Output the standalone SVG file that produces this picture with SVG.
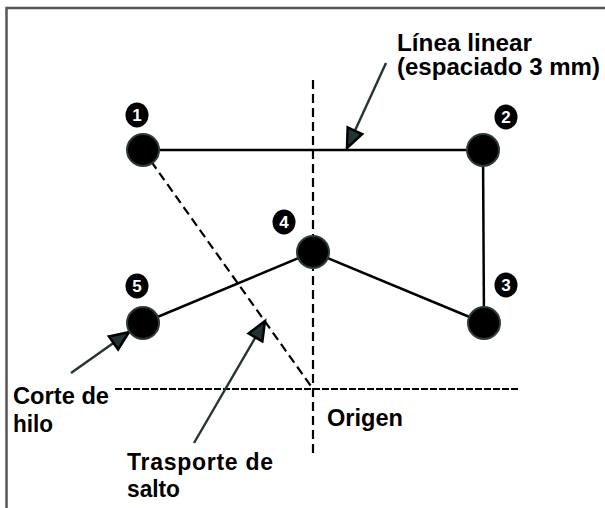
<svg xmlns="http://www.w3.org/2000/svg" width="605" height="508" viewBox="0 0 605 508">
<defs>
<marker id="ah" markerUnits="userSpaceOnUse" markerWidth="24" markerHeight="20" refX="21" refY="10" orient="auto" viewBox="0 0 24 20">
<path d="M2,2 L21,10 L2,18 z" fill="#223333" stroke="#000" stroke-width="2.5" stroke-linejoin="miter"/>
</marker>
</defs>
<style>
.frame{stroke:#555;stroke-width:2.5;fill:none}
.solid{stroke:#000;stroke-width:2.5;fill:none}
.dash{stroke:#000;stroke-width:2.2;fill:none;stroke-dasharray:9 5}
.dashf{stroke:#000;stroke-width:2.2;fill:none;stroke-dasharray:7 2}
.lead{stroke:#243434;stroke-width:2.4;fill:none;marker-end:url(#ah)}
.node{fill:#000;stroke:#2b3b3b;stroke-width:2}
.lbl{fill:#000}
.num{fill:#fff;font-family:"Liberation Sans",Arial,sans-serif;font-weight:bold;font-size:17px;text-anchor:middle}
.t{fill:#000;font-family:"Liberation Sans",Arial,sans-serif;font-weight:bold;font-size:23px}
</style>
<g id="frame">
<path class="frame" d="M6.5,508 L6.5,8 L605,8"/>
</g>
<g id="connectors">
<line class="dash" x1="313" y1="80" x2="313" y2="457"/>
<line class="dashf" x1="115" y1="389" x2="518" y2="389"/>
<line class="dash" x1="143" y1="150" x2="313" y2="389"/>
<line class="solid" x1="143" y1="150" x2="483" y2="150"/>
<line class="solid" x1="483" y1="150" x2="484" y2="323"/>
<line class="solid" x1="484" y1="323" x2="313" y2="252"/>
<line class="solid" x1="313" y1="252" x2="143" y2="323"/>
<line class="lead" x1="386" y1="63" x2="347" y2="148"/>
<line class="lead" x1="71" y1="373" x2="129" y2="332"/>
<line class="lead" x1="194" y1="443" x2="265" y2="321"/>
</g>
<g id="n1">
<circle class="node" cx="143" cy="150" r="16"/>
<ellipse class="lbl" cx="137" cy="115" rx="11.5" ry="12.5"/>
<text class="num" x="137" y="121">1</text>
</g>
<g id="n2">
<circle class="node" cx="483" cy="150" r="16"/>
<ellipse class="lbl" cx="506" cy="117" rx="11.5" ry="12.5"/>
<text class="num" x="506" y="123">2</text>
</g>
<g id="n3">
<circle class="node" cx="484" cy="323" r="16"/>
<ellipse class="lbl" cx="506" cy="285" rx="11.5" ry="12.5"/>
<text class="num" x="506" y="291">3</text>
</g>
<g id="n4">
<circle class="node" cx="313" cy="252" r="16"/>
<ellipse class="lbl" cx="284" cy="222" rx="11.5" ry="12.5"/>
<text class="num" x="284" y="228">4</text>
</g>
<g id="n5">
<circle class="node" cx="143" cy="323" r="16"/>
<ellipse class="lbl" cx="137" cy="286" rx="11.5" ry="12.5"/>
<text class="num" x="137" y="292">5</text>
</g>
<g id="labels">
<text class="t" x="397" y="51" textLength="135" lengthAdjust="spacingAndGlyphs">Línea linear</text>
<text class="t" x="397" y="75" textLength="203" lengthAdjust="spacingAndGlyphs">(espaciado 3 mm)</text>
<text class="t" x="13" y="404" textLength="96" lengthAdjust="spacingAndGlyphs">Corte de</text>
<text class="t" x="13" y="432" textLength="40" lengthAdjust="spacingAndGlyphs">hilo</text>
<text class="t" x="127" y="470" textLength="146" lengthAdjust="spacing">Trasporte de</text>
<text class="t" x="127" y="497" textLength="53" lengthAdjust="spacingAndGlyphs">salto</text>
<text class="t" x="327" y="426" textLength="76" lengthAdjust="spacingAndGlyphs">Origen</text>
</g>
</svg>
